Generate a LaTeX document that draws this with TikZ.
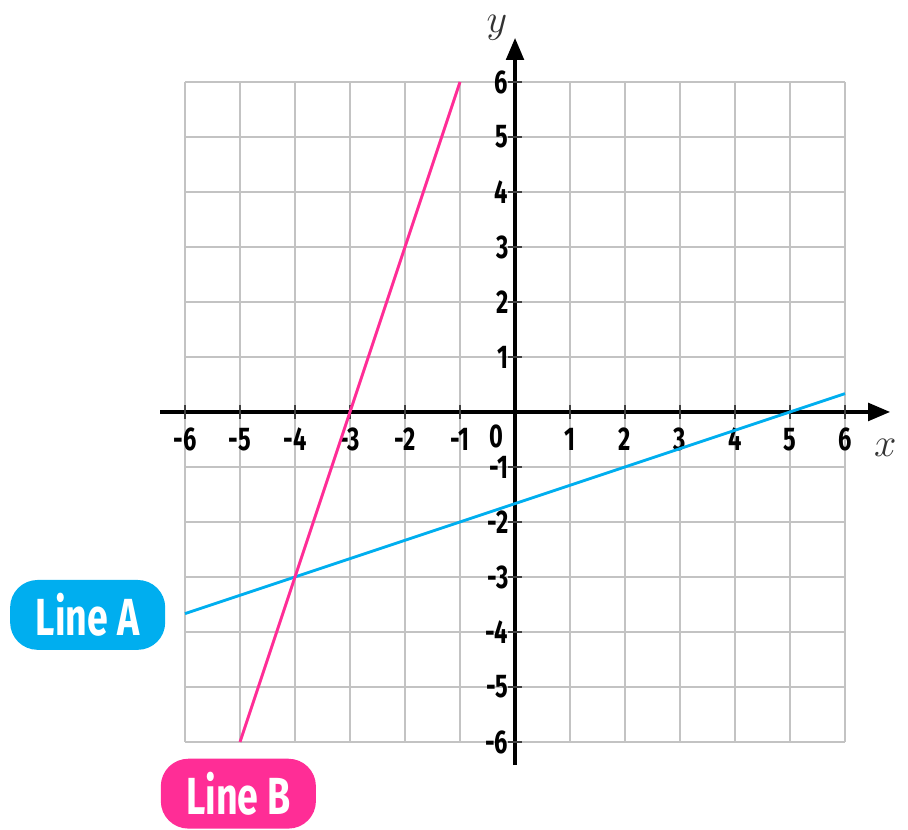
\documentclass[tikz,border=0pt]{standalone}
\usepackage{fontspec}
\newfontfamily\condfont[FakeStretch=0.72]{Fira Sans}
\usepackage{tikz}
\usetikzlibrary{arrows.meta,positioning}
\definecolor{lineAcol}{RGB}{0,174,239}
\definecolor{lineBcol}{RGB}{255,45,150}
\definecolor{gridcol}{RGB}{195,195,195}

\begin{document}
\begin{tikzpicture}[
  gridline/.style={draw=gridcol, line width=0.9pt},
  axis/.style={line width=1.8pt, -{Triangle[length=4mm,width=3.2mm]}},
  num/.style={font=\condfont\bfseries\fontsize{17}{17}\selectfont, inner sep=1pt},
  axlab/.style={font=\fontsize{22}{22}\selectfont, text=black!80, inner sep=1pt},
  tag/.style={rounded corners=5mm, minimum width=2.82cm, minimum height=1.27cm,
              text=white, font=\condfont\bfseries\fontsize{27}{27}\selectfont},
  plot/.style={line width=1.5pt}]
\useasboundingbox (-9.364,-7.6) rectangle (7.145,7.49);
% grid
\foreach \i in {-6,...,6} {
  \draw[gridline] (\i,-6) -- (\i,6);
  \draw[gridline] (-6,\i) -- (6,\i);
}
% axes
\draw[axis] (-6.45,0) -- (6.82,0);
\draw[axis] (0,-6.42) -- (0,6.8);
\foreach \i in {-6,...,-1,1,2,...,6} {
  \draw[line width=0.9pt, black!75] (\i,-0.12) -- (\i,0.12);
  \draw[line width=0.9pt, black!75] (-0.12,\i) -- (0.12,\i);
}
% numbers
\foreach \i in {-6,...,-1,1,2,...,6}
  \node[num] at (\i,-0.5) {\i};
\foreach \i in {-6,...,-1,1,2,...,6}
  \node[num, anchor=east] at (-0.08,\i) {\i};
\node[num] (zero) at (-0.33,-0.45) {0};
\node[axlab] (xlab) at (6.73,-0.66) {$x$};
\node[axlab] (ylab) at (-0.33,6.98) {$y$};
% lines
\coordinate (a1) at (-6,-11/3);
\coordinate (a2) at (6,1/3);
\coordinate (b1) at (-5,-6);
\coordinate (b2) at (-1,6);
\draw[plot, lineAcol] (a1) -- (a2);
\draw[plot, lineBcol] (b1) -- (b2);
% tags
\node[tag, fill=lineAcol] (lineA) at (-7.77,-3.69) {Line A};
\node[tag, fill=lineBcol] (lineB) at (-5.03,-6.94) {Line B};
\end{tikzpicture}
\end{document}
